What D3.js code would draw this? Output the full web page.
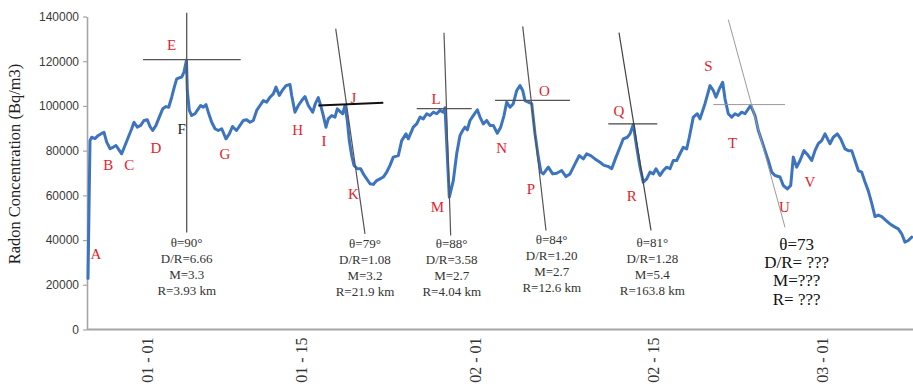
<!DOCTYPE html>
<html>
<head>
<meta charset="utf-8">
<script src="https://cdn.jsdelivr.net/npm/d3@7"></script>
<style>
  html, body { margin: 0; padding: 0; background: #fff; }
  svg { display: block; }
</style>
</head>
<body>
<svg id="chart" width="913" height="387"></svg>
<script>
// Elapsed time since the start of the record, in days
const day = [
  0, 0.2, 0.37, 0.7, 1.03, 1.37, 1.6, 1.87, 2.2, 2.5, 2.8, 3.03, 3.37, 3.7, 4.03, 4.37, 4.6, 4.93, 5.27, 5.6,
  5.93, 6.2, 6.47, 6.8, 7.13, 7.47, 7.8, 8.07, 8.37, 8.63, 8.87, 9.13, 9.37, 9.6, 9.85, 9.93, 10.13, 10.37, 10.7, 11.03,
  11.27, 11.53, 11.8, 12.03, 12.37, 12.7, 13.03, 13.37, 13.8, 14.13, 14.45, 14.85, 15.2, 15.53, 15.87, 16.2, 16.53, 16.87, 17.2, 17.53,
  17.87, 18.2, 18.53, 18.8, 19.13, 19.47, 19.8, 20.2, 20.37, 20.7, 21.03, 21.37, 21.7, 22.03, 22.47, 22.73, 23.03, 23.27, 23.53, 23.8,
  24.03, 24.37, 24.7, 24.93, 25.27, 25.47, 25.7, 25.93, 26.13, 26.37, 26.6, 26.93, 27.27, 27.53, 27.87, 28.2, 28.53, 28.87, 29.2, 29.53,
  29.87, 30.2, 30.53, 31.03, 31.37, 31.8, 32.03, 32.53, 32.87, 33.2, 33.53, 33.87, 34.2, 34.53, 34.87, 35.2, 35.53, 35.7, 36.13, 36.53,
  36.87, 37.2, 37.47, 37.7, 37.93, 38.2, 38.53, 38.93, 39.2, 39.53, 39.87, 40.2, 40.53, 40.93, 41.27, 41.6, 41.87, 42.2, 42.53, 42.87,
  43.2, 43.47, 43.7, 44.03, 44.37, 44.7, 45.03, 45.3, 45.53, 46.03, 46.47, 46.87, 47.37, 47.8, 48.2, 48.7, 49.13, 49.53, 49.87, 50.27,
  50.7, 51.2, 51.6, 52.03, 52.37, 52.8, 53.2, 53.53, 53.93, 54.2, 54.53, 54.87, 55.2, 55.53, 55.87, 56.2, 56.53, 56.8, 57.2, 57.53,
  57.87, 58.2, 58.53, 58.87, 59.2, 59.53, 59.87, 60.13, 60.53, 60.93, 61.2, 61.7, 62.2, 62.53, 62.8, 63.13, 63.47, 63.7, 64.03, 64.37,
  64.7, 65.03, 65.37, 65.7, 66.03, 66.27, 66.7, 67.03, 67.37, 67.7, 68.03, 68.37, 68.7, 69.2, 69.53, 69.93, 70.27, 70.53, 70.87, 71.2,
  71.6, 72.03, 72.37, 72.7, 73.03, 73.37, 73.7, 74.2, 74.53, 74.93, 75.27, 75.7, 76.03, 76.37, 76.7, 77.03, 77.37, 77.7, 78.03, 78.37,
  78.7, 79.03, 79.37, 79.87, 80.2, 80.7, 81.03, 81.37, 81.7, 82.03, 82.37
];

// Radon concentration (Bq/m3)
const radon = [
  22800, 84500, 86000, 85400, 86800, 87700, 88200, 83800, 80900, 81500, 82300, 80800, 78600, 82300, 86000, 89800, 92700, 90500, 91300, 93500,
  93800, 90800, 89000, 91300, 95000, 98700, 99700, 99400, 103900, 108400, 112100, 112600, 112900, 115100, 120500, 106900, 98000, 95700, 96500, 98700,
  100200, 99400, 100600, 97200, 92700, 89800, 89000, 89800, 85300, 87500, 90800, 89000, 91300, 93500, 93800, 92700, 93500, 98000, 100200, 102400,
  101700, 103900, 105400, 108400, 104700, 107200, 109100, 109600, 104700, 97200, 100200, 102400, 104200, 100200, 97200, 101000, 103700, 100200, 95700, 90500,
  94200, 95700, 95000, 98700, 97200, 96500, 100200, 93500, 84500, 77800, 73400, 71900, 71900, 69600, 67400, 65200, 64900, 66600, 67400, 68200,
  70400, 73400, 77100, 77800, 84500, 87500, 85300, 90500, 92000, 95000, 94200, 96500, 95700, 97200, 96500, 98000, 97200, 99200, 59200, 66600,
  78600, 86800, 89000, 90500, 89300, 93500, 95700, 98300, 95000, 92000, 93500, 91300, 91300, 87800, 90500, 95700, 101700, 99400, 101000, 106900,
  109100, 106900, 102400, 101700, 101000, 87500, 77100, 70400, 69600, 72600, 69600, 69900, 71100, 68400, 69600, 74100, 77800, 76300, 78600, 77800,
  76300, 74800, 73400, 72900, 71900, 77100, 81500, 85300, 86000, 87500, 91700, 81500, 72600, 65900, 67400, 70400, 69600, 71900, 68900, 71100,
  72600, 71900, 75600, 75600, 78600, 81500, 80800, 86000, 95000, 96500, 94200, 101000, 109100, 106900, 103900, 107600, 110600, 103200, 96500, 95000,
  96500, 95700, 97200, 96500, 98700, 100200, 95700, 89000, 84500, 80000, 75600, 70400, 68900, 68200, 64400, 62900, 64400, 77100, 72600, 75600,
  80000, 77800, 75600, 80000, 83100, 84500, 87500, 83100, 86000, 87500, 85300, 80800, 80000, 80000, 75600, 71100, 70400, 66000, 62000, 56500,
  50500, 51200, 50500, 48500, 47200, 45800, 45000, 42800, 39100, 39800, 41300
];

// Axis ticks
const yTicks = [0, 20000, 40000, 60000, 80000, 100000, 120000, 140000];
const xTickDays = [5.95, 21.35, 38.78, 56.53, 73.4];
const xTickLabels = ["01 - 01", "01 - 15", "02 - 01", "02 - 15", "03 - 01"];

// Point labels on the curve
const pointNames = ["A","B","C","D","E","F","G","H","I","J","K","L","M","N","O","P","Q","R","S","T","U","V"];
const pointDay   = [0.8, 2.03, 4.13, 6.8, 8.37, 9.37, 13.7, 20.97, 23.6, 26.53, 26.53, 34.8, 34.93, 41.37, 45.63, 44.3, 53.1, 54.37, 62.03, 64.47, 69.63, 72.2];
const pointValue = [34000, 73600, 73600, 81500, 127300, 89700, 78600, 89300, 84500, 103600, 60900, 103400, 55000, 81500, 106900, 62900, 97900, 59900, 118000, 83700, 55000, 65900];

// Onset guide lines: steep line (top -> bottom) and level line (left -> right)
const guideSteep = [
  [[9.87, 141700], [9.87, 43400]],
  [[24.77, 134600], [27.7, 42800]],
  [[35.6, 132700], [36.27, 42000]],
  [[43.47, 135600], [45.8, 44300]],
  [[53.1, 132800], [56.3, 44300]],
  [[64.03, 138600], [69.7, 45700]]
];
const guideLevel = [
  [[5.5, 120700], [15.27, 120700]],
  [[23.03, 100200], [29.53, 101400]],
  [[32.87, 98800], [38.37, 98800]],
  [[40.7, 102500], [48.2, 102500]],
  [[52.03, 92000], [56.93, 92000]],
  [[62.53, 100600], [69.7, 100600]]
];

// Event parameters printed under each guide
const eventText = [
  ["θ=90°", "D/R=6.66", "M=3.3", "R=3.93 km"],
  ["θ=79°", "D/R=1.08", "M=3.2", "R=21.9 km"],
  ["θ=88°", "D/R=3.58", "M=2.7", "R=4.04 km"],
  ["θ=84°", "D/R=1.20", "M=2.7", "R=12.6 km"],
  ["θ=81°", "D/R=1.28", "M=5.4", "R=163.8 km"],
  ["θ=73", "D/R= ???", "M=???", "R= ???"]
];
const eventDay = [9.87, 27.7, 36.37, 46.37, 56.43, 70.87];
const eventValue = [38900, 38300, 38300, 40200, 39000, 38300];

const svg = d3.select("#chart");
const x = d3.scaleLinear().domain([0, 82.5]).range([88, 913]);
const y = d3.scaleLinear().domain([0, 140000]).range([329.5, 16.5]);

// Y axis
const yAxis = svg.append("g")
  .attr("transform", `translate(${x(0) - 1},0)`)
  .call(d3.axisLeft(y).tickValues(yTicks).tickSize(4).tickSizeOuter(0).tickFormat(d => String(d)));
yAxis.select(".domain").attr("stroke", "#a6a6a6").attr("stroke-width", 1.6);
yAxis.selectAll(".tick line").attr("stroke", "#a6a6a6").attr("stroke-width", 1.2);
yAxis.selectAll(".tick text")
  .attr("x", -8)
  .attr("fill", "#3a3a3a")
  .style("font-family", "'Liberation Sans', Arial, sans-serif")
  .style("font-size", "12px");

// X axis line and date labels
svg.append("line")
  .attr("x1", x(0) - 1).attr("x2", x(82.5))
  .attr("y1", y(0)).attr("y2", y(0))
  .attr("stroke", "#a6a6a6").attr("stroke-width", 1.8);

svg.append("g").selectAll("text")
  .data(xTickDays)
  .join("text")
  .attr("transform", d => `translate(${x(d)},${y(0) + 8}) rotate(-90)`)
  .attr("dy", "0.35em")
  .attr("text-anchor", "end")
  .attr("fill", "#333")
  .style("font-family", "'Liberation Serif', 'Times New Roman', serif")
  .style("font-size", "16px")
  .text((d, i) => xTickLabels[i]);

// Y axis title
svg.append("text")
  .attr("transform", "translate(14,164) rotate(-90)")
  .attr("dy", "0.35em")
  .attr("text-anchor", "middle")
  .attr("fill", "#222")
  .style("font-family", "'Liberation Serif', 'Times New Roman', serif")
  .style("font-size", "16.5px")
  .text("Radon Concentration (Bq/m3)");

// Radon curve
const series = day.map((d, i) => [d, radon[i]]);
svg.append("path")
  .datum(series)
  .attr("fill", "none")
  .attr("stroke", "#3d74c0")
  .attr("stroke-width", 3)
  .attr("stroke-linejoin", "round")
  .attr("stroke-linecap", "round")
  .attr("d", d3.line().x(d => x(d[0])).y(d => y(d[1])));

// Guide lines
const guideStyle = [
  { stroke: "#555", width: 1.3 },
  { stroke: "#555", width: 1.2 },
  { stroke: "#555", width: 1.2 },
  { stroke: "#555", width: 1.2 },
  { stroke: "#444", width: 1.2 },
  { stroke: "#9a9a9a", width: 1 }
];
const seg = d3.line().x(d => x(d[0])).y(d => y(d[1]));
guideSteep.forEach((g, i) => {
  svg.append("path").attr("d", seg(g)).attr("fill", "none")
    .attr("stroke", guideStyle[i].stroke).attr("stroke-width", guideStyle[i].width);
});
guideLevel.forEach((g, i) => {
  const isJ = i === 1;
  svg.append("path").attr("d", seg(g)).attr("fill", "none")
    .attr("stroke", isJ ? "#111" : guideStyle[i].stroke)
    .attr("stroke-width", isJ ? 2 : guideStyle[i].width);
});

// Point labels
svg.append("g").selectAll("text")
  .data(pointNames)
  .join("text")
  .attr("x", (d, i) => x(pointDay[i]))
  .attr("y", (d, i) => y(pointValue[i]))
  .attr("dy", "0.35em")
  .attr("text-anchor", "middle")
  .attr("fill", d => d === "F" ? "#222" : "#e3232b")
  .style("font-family", "'Liberation Serif', 'Times New Roman', serif")
  .style("font-size", "15px")
  .text(d => d);

// Event parameter blocks
eventText.forEach((lines, i) => {
  const big = i === 5;
  const g = svg.append("text")
    .attr("text-anchor", "middle")
    .attr("fill", big ? "#111" : "#333")
    .style("font-family", "'Liberation Serif', 'Times New Roman', serif")
    .style("font-size", big ? "17px" : "13px");
  lines.forEach((t, j) => {
    g.append("tspan")
      .attr("x", x(eventDay[i]))
      .attr("y", y(eventValue[i]) + j * (big ? 18.3 : 15.9))
      .attr("dy", "0.35em")
      .text(t);
  });
});
</script>
</body>
</html>
